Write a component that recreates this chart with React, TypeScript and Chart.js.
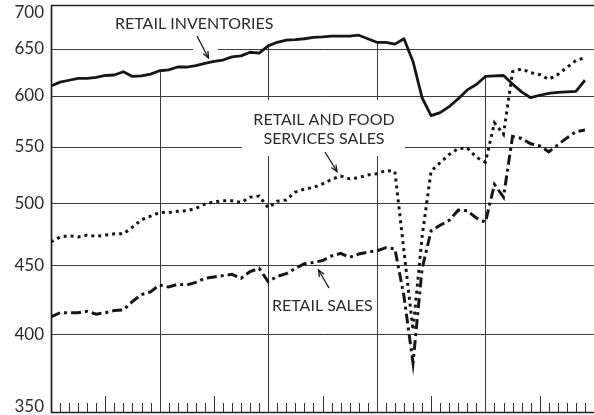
import React, { useEffect, useRef } from "react";
import { Chart, registerables } from "chart.js";
Chart.register(...registerables);

// month index 0..59 (five years of monthly data)
const monthCount = 60;
const yearMarks = [12, 24, 36, 48];
const yTicks = [350, 400, 450, 500, 550, 600, 650, 700];

const retailInventories = [
  610, 614, 616, 618, 618, 619, 621, 621.5, 625, 620, 620.5, 622.5,
  626, 627, 630, 630, 631.5, 634, 636, 637.5, 641, 642, 646, 645,
  653, 657, 659.5, 660, 661, 662.5, 663, 664, 664, 664, 665, 661,
  657, 657, 655, 661, 636, 598, 580, 583, 589, 597, 606, 611.5,
  620, 620.5, 621, 612, 604, 598, 600.5, 602.5, 603.5, 604, 604.5, 616,
];

const retailAndFoodSales = [
  468, 472, 473, 472, 473.5, 472.5, 473.5, 474.5, 474.5, 480, 486, 489,
  492, 492, 493, 493.5, 495.5, 499, 501, 502, 502, 500.5, 505, 506,
  496, 501.5, 502.6, 509.5, 512, 513.5, 516.5, 520.5, 523.5, 521, 522, 524.5,
  525.5, 528.5, 527.5, 461, 403, 472, 528, 535.5, 543, 548.5, 549, 540.5,
  536, 573, 562, 625, 628, 624, 622, 617, 622, 629.5, 637, 640,
];

const retailSales = [
  412, 415, 415, 415, 416, 414, 415, 416.5, 417, 423, 428, 430,
  435, 433.5, 435.5, 435, 437, 440, 441, 442, 443, 440, 445, 447.5,
  437.5, 441.5, 443.5, 447.5, 451, 452, 453.5, 457, 459, 456, 458.5, 460,
  461, 463.5, 462.5, 427, 381, 447, 477, 481.5, 485.5, 494, 493.5, 487.5,
  484, 516, 505, 560, 558, 553, 551, 545.5, 552, 558.5, 564.5, 566,
];

const toPoints = (arr: number[]) => arr.map((v, i) => ({ x: i, y: v }));

const INK = "#161616";
const GRID = "#3c3c3c";
const TEXT = "#2b2b2b";
const FONT = "Lato, 'Noto Sans', sans-serif";

function seg(ctx: CanvasRenderingContext2D, x1: number, y1: number, x2: number, y2: number) {
  ctx.beginPath();
  ctx.moveTo(x1, y1);
  ctx.lineTo(x2, y2);
  ctx.stroke();
}

function arrow(ctx: CanvasRenderingContext2D, x1: number, y1: number, x2: number, y2: number) {
  ctx.save();
  ctx.strokeStyle = INK;
  ctx.lineWidth = 1.3;
  seg(ctx, x1, y1, x2, y2);
  const ang = Math.atan2(y2 - y1, x2 - x1);
  const len = 7;
  const spread = 0.4;
  ctx.beginPath();
  ctx.moveTo(x2 - len * Math.cos(ang - spread), y2 - len * Math.sin(ang - spread));
  ctx.lineTo(x2, y2);
  ctx.lineTo(x2 - len * Math.cos(ang + spread), y2 - len * Math.sin(ang + spread));
  ctx.stroke();
  ctx.restore();
}

const decoPlugin = {
  id: "deco",
  beforeDatasetsDraw(chart: any) {
    const { ctx, chartArea: a, scales } = chart;
    const xs = scales.x;
    const ys = scales.y;
    ctx.save();
    ctx.strokeStyle = GRID;
    ctx.lineWidth = 1;
    // horizontal grid lines
    for (const v of yTicks) {
      if (v === 350 || v === 700) continue;
      const py = Math.round(ys.getPixelForValue(v)) + 0.5;
      seg(ctx, a.left, py, a.right, py);
    }
    // vertical year lines, from the bottom up to the inventories line
    for (const m of yearMarks) {
      const px = Math.round(xs.getPixelForValue(m)) + 0.5;
      const top = ys.getPixelForValue(retailInventories[m]);
      seg(ctx, px, a.bottom, px, top);
    }
    // monthly ticks
    ctx.strokeStyle = "#333";
    for (let m = 1; m < monthCount; m++) {
      if (m % 12 === 0) continue;
      const px = Math.round(xs.getPixelForValue(m)) + 0.5;
      const len = m % 12 === 6 ? 17 : 10;
      seg(ctx, px, a.bottom, px, a.bottom - len);
    }
    // frame: top, left, bottom
    ctx.strokeStyle = "#222";
    ctx.lineWidth = 1.7;
    const top = ys.getPixelForValue(700);
    const bot = ys.getPixelForValue(350);
    seg(ctx, a.left, top + 0.5, a.right, top + 0.5);
    seg(ctx, a.left + 0.5, top, a.left + 0.5, bot);
    seg(ctx, a.left, bot - 0.5, a.right, bot - 0.5);

    // white knock-outs behind labels
    ctx.fillStyle = "#ffffff";
    ctx.fillRect(193, 34, 25, 20);
    ctx.fillRect(242, 100, 163, 56);

    // y tick labels
    ctx.fillStyle = TEXT;
    ctx.font = `17px ${FONT}`;
    ctx.textAlign = "right";
    ctx.textBaseline = "middle";
    for (const v of yTicks) {
      let py = ys.getPixelForValue(v);
      py = Math.min(Math.max(py, 13), 407);
      ctx.fillText(String(v), 44, py);
    }

    // annotation texts
    ctx.font = `16px ${FONT}`;
    ctx.textBaseline = "alphabetic";
    ctx.textAlign = "left";
    ctx.fillText("RETAIL INVENTORIES", 115, 29);
    ctx.textAlign = "center";
    ctx.fillText("RETAIL AND FOOD", 324, 125);
    ctx.fillText("SERVICES SALES", 324, 144);
    ctx.textAlign = "left";
    ctx.fillText("RETAIL SALES", 272, 311);
    ctx.restore();
  },
  afterDatasetsDraw(chart: any) {
    const { ctx } = chart;
    arrow(ctx, 197, 36, 208.5, 58);
    arrow(ctx, 325, 152, 337, 171.5);
    arrow(ctx, 329, 288, 318.5, 270);
  },
};

export default function App() {
  const ref = useRef<HTMLCanvasElement | null>(null);
  useEffect(() => {
    if (!ref.current) return;
    const chart = new Chart(ref.current, {
      type: "line",
      data: {
        datasets: [
          {
            label: "Retail inventories",
            data: toPoints(retailInventories),
            borderColor: INK,
            borderWidth: 2.8,
            pointRadius: 0,
            tension: 0,
            borderJoinStyle: "round",
          },
          {
            label: "Retail and food services sales",
            data: toPoints(retailAndFoodSales),
            borderColor: INK,
            borderWidth: 3,
            borderDash: [3, 4],
            borderCapStyle: "butt",
            pointRadius: 0,
            tension: 0,
          },
          {
            label: "Retail sales",
            data: toPoints(retailSales),
            borderColor: INK,
            borderWidth: 3,
            borderDash: [10, 4, 3, 4],
            borderCapStyle: "butt",
            pointRadius: 0,
            tension: 0,
          },
        ],
      },
      options: {
        responsive: false,
        animation: false,
        layout: { padding: { left: 51, top: 5, right: 0, bottom: 2 } },
        plugins: { legend: { display: false }, tooltip: { enabled: false } },
        scales: {
          x: { type: "linear", min: 0, max: monthCount, display: false },
          y: { type: "logarithmic", min: 350, max: 700, display: false },
        },
      },
      plugins: [decoPlugin],
    } as any);
    return () => chart.destroy();
  }, []);
  return (
    <div style={{ position: "fixed", left: 0, top: 0, width: 594, height: 415, background: "#fff" }}>
      <canvas ref={ref} width={594} height={415} style={{ display: "block" }} />
    </div>
  );
}
